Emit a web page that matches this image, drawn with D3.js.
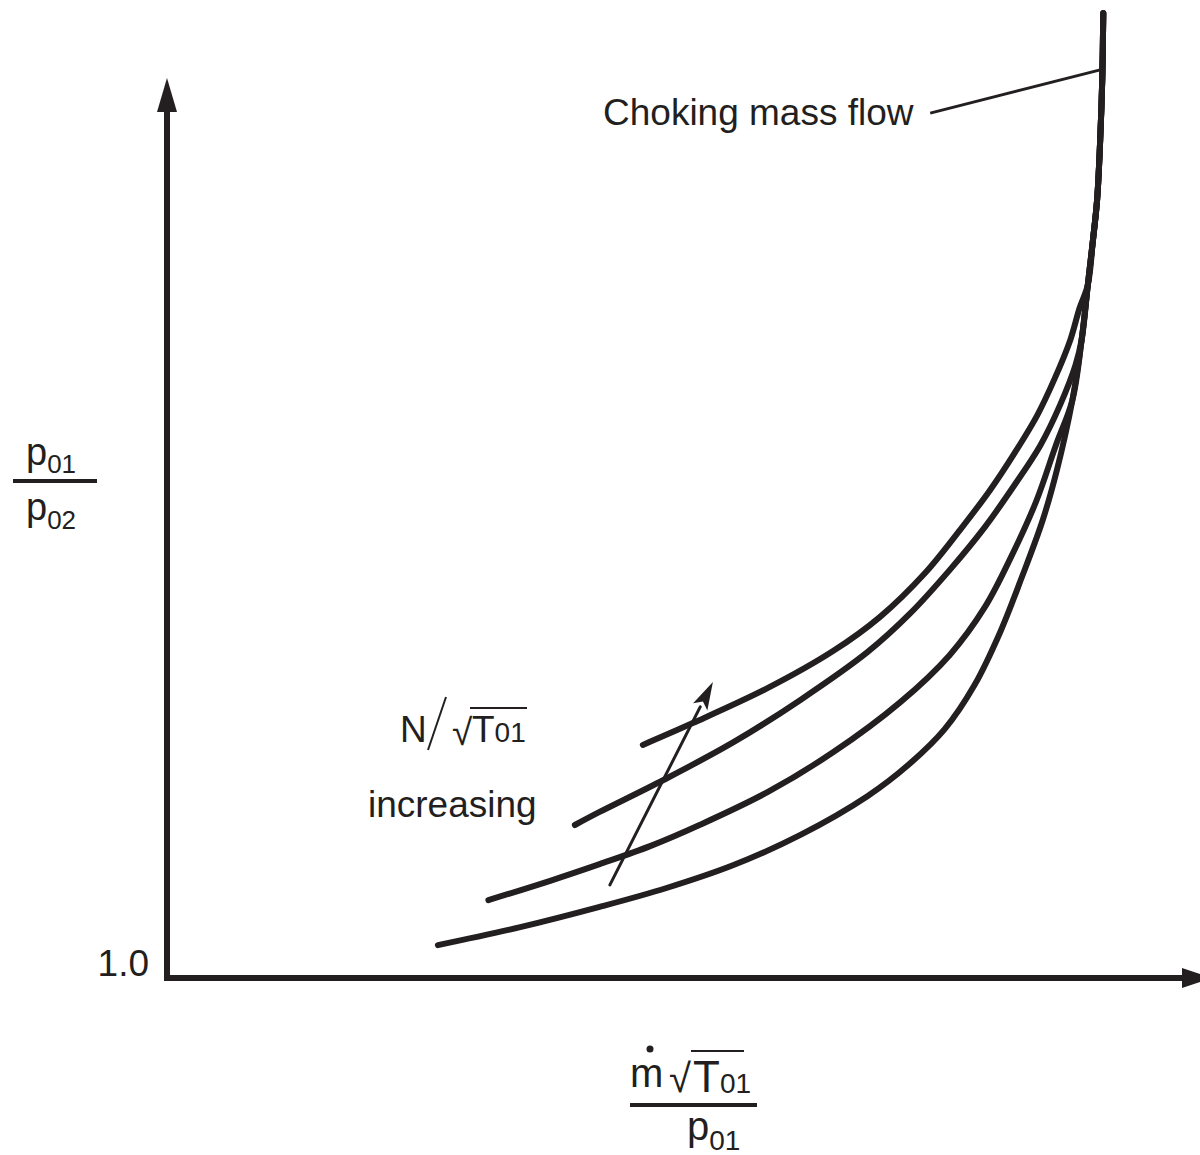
<!DOCTYPE html>
<html><head><meta charset="utf-8">
<script src="https://cdn.jsdelivr.net/npm/d3@7"></script>
<style>body{margin:0;background:#fff} svg{display:block}</style>
</head><body>
<svg id="c" width="1200" height="1155"></svg>
<script>
// ---- data (normalized corrected mass flow, pressure ratio p01/p02) ----
// speed lines, N/sqrt(T01) increasing from N1 (lowest) to N4 (highest)
const curveN1 = [[0.263,1.073],[0.343,1.113],[0.420,1.158],[0.485,1.200],[0.550,1.251],[0.615,1.318],[0.680,1.404],[0.721,1.476],[0.755,1.553],[0.784,1.651],[0.809,1.769],[0.830,1.891],[0.850,2.016],[0.864,2.129]];
const curveN2 = [[0.312,1.173],[0.372,1.216],[0.420,1.253],[0.469,1.293],[0.517,1.340],[0.583,1.413],[0.647,1.502],[0.712,1.613],[0.760,1.718],[0.794,1.824],[0.820,1.938],[0.844,2.060],[0.863,2.184]];
const curveN3 = [[0.396,1.340],[0.420,1.369],[0.482,1.440],[0.550,1.524],[0.615,1.618],[0.680,1.724],[0.721,1.809],[0.760,1.907],[0.794,2.002],[0.823,2.096],[0.848,2.184],[0.867,2.273],[0.882,2.362]];
const curveN4 = [[0.462,1.518],[0.511,1.567],[0.583,1.644],[0.647,1.727],[0.692,1.802],[0.736,1.900],[0.770,1.996],[0.799,2.084],[0.823,2.167],[0.845,2.251],[0.862,2.333],[0.877,2.418],[0.886,2.489]];
// shared part where the low-speed lines run together
const mergedLow = [[0.879,2.284],[0.888,2.418]];
// near-vertical choking line
const chokeLine = [[0.894,2.540],[0.899,2.640],[0.903,2.729],[0.906,2.862],[0.908,2.996],[0.909,3.144]];
const chokeLeader = [[0.741,2.922],[0.906,3.018]];
const speedArrow = [[0.430,1.207],[0.530,1.658]];
const yTickValues = [1.0];
const yTickLabels = ["1.0"];

// ---- layout ----
const svg = d3.select("#c");
const x = d3.scaleLinear().domain([0, 1]).range([167, 1197]);
const y = d3.scaleLinear().domain([1, 3]).range([978, 78]);
const font = "'Liberation Sans', Arial, Helvetica, sans-serif";
const ink = "#231f20";

// axes with arrowheads
svg.append("line").attr("x1", x(0)).attr("y1", y(1) + 3).attr("x2", x(0)).attr("y2", y(3) + 30)
  .attr("stroke", ink).attr("stroke-width", 6);
svg.append("path").attr("d", `M${x(0)},${y(3)} L${x(0)-10},${y(3)+34} L${x(0)+10},${y(3)+34} Z`).attr("fill", ink);
svg.append("line").attr("x1", x(0) - 3).attr("y1", y(1)).attr("x2", 1186).attr("y2", y(1))
  .attr("stroke", ink).attr("stroke-width", 6);
svg.append("path").attr("d", `M1212,${y(1)} L1182,${y(1)-10} L1182,${y(1)+10} Z`).attr("fill", ink);

// y tick label
svg.selectAll("text.ytick").data(yTickValues).enter().append("text")
  .attr("class", "ytick").attr("x", 149).attr("y", d => y(d) - 2)
  .attr("text-anchor", "end").attr("font-family", font).attr("font-size", 37).attr("fill", ink)
  .text((d, i) => yTickLabels[i]);

// speed lines
const line = d3.line().x(d => x(d[0])).y(d => y(d[1])).curve(d3.curveCatmullRom.alpha(0.5));
const paths = [
  curveN1.concat(mergedLow, chokeLine),
  curveN2.concat(mergedLow, chokeLine),
  curveN3.concat(mergedLow.slice(1), chokeLine),
  curveN4.concat(chokeLine)
];
svg.selectAll("path.speed").data(paths).enter().append("path").attr("class", "speed")
  .attr("d", line).attr("fill", "none").attr("stroke", ink).attr("stroke-width", 6)
  .attr("stroke-linecap", "round").attr("stroke-linejoin", "round");

// leader line to choke
svg.append("line").attr("x1", x(chokeLeader[0][0])).attr("y1", y(chokeLeader[0][1]))
  .attr("x2", x(chokeLeader[1][0])).attr("y2", y(chokeLeader[1][1]))
  .attr("stroke", ink).attr("stroke-width", 3);
svg.append("text").attr("x", 603).attr("y", 125).attr("font-family", font).attr("font-size", 37)
  .attr("fill", ink).text("Choking mass flow");

// speed increase arrow
{
  const [a, b] = speedArrow;
  const x1 = x(a[0]), y1 = y(a[1]), x2 = x(b[0]), y2 = y(b[1]);
  const ang = Math.atan2(y2 - y1, x2 - x1);
  const L = 28, W = 8;
  const bx = x2 - L * Math.cos(ang), by = y2 - L * Math.sin(ang);
  svg.append("line").attr("x1", x1).attr("y1", y1).attr("x2", bx).attr("y2", by)
    .attr("stroke", ink).attr("stroke-width", 3).attr("stroke-linecap", "round");
  svg.append("path").attr("d",
    `M${x2},${y2} L${bx + W*Math.sin(ang)},${by - W*Math.cos(ang)} L${bx + 6*Math.cos(ang)},${by + 6*Math.sin(ang)} L${bx - W*Math.sin(ang)},${by + W*Math.cos(ang)} Z`)
    .attr("fill", ink);
}

// N/sqrt(T01) increasing label
const g1 = svg.append("g").attr("font-family", font).attr("fill", ink);
g1.append("text").attr("x", 400).attr("y", 742).attr("font-size", 37).text("N");
g1.append("line").attr("x1", 428).attr("y1", 750).attr("x2", 446).attr("y2", 697).attr("stroke", ink).attr("stroke-width", 2);
g1.append("text").attr("x", 452).attr("y", 745).attr("font-size", 37).text("\u221A");
g1.append("line").attr("x1", 470).attr("y1", 708).attr("x2", 527).attr("y2", 708).attr("stroke", ink).attr("stroke-width", 2);
const t1 = g1.append("text").attr("x", 472).attr("y", 742).attr("font-size", 37);
t1.append("tspan").text("T");
t1.append("tspan").attr("font-size", 28).text("01");
g1.append("text").attr("x", 368).attr("y", 817).attr("font-size", 37).text("increasing");

// y axis label p01/p02
const gy = svg.append("g").attr("font-family", font).attr("fill", ink);
const py1 = gy.append("text").attr("x", 26).attr("y", 465).attr("font-size", 38);
py1.append("tspan").text("p");
py1.append("tspan").attr("font-size", 26).attr("dy", 8).text("01");
gy.append("line").attr("x1", 13).attr("y1", 481).attr("x2", 97).attr("y2", 481).attr("stroke", ink).attr("stroke-width", 4);
const py2 = gy.append("text").attr("x", 26).attr("y", 520).attr("font-size", 38);
py2.append("tspan").text("p");
py2.append("tspan").attr("font-size", 26).attr("dy", 9).text("02");

// x axis label  m-dot sqrt(T01) / p01
const gx = svg.append("g").attr("font-family", font).attr("fill", ink);
gx.append("text").attr("x", 630).attr("y", 1087).attr("font-size", 40).text("m");
gx.append("circle").attr("cx", 650).attr("cy", 1049).attr("r", 3.5).attr("fill", ink);
gx.append("text").attr("x", 669).attr("y", 1092).attr("font-size", 40).text("\u221A");
gx.append("line").attr("x1", 691).attr("y1", 1051).attr("x2", 744).attr("y2", 1051).attr("stroke", ink).attr("stroke-width", 2);
const tx = gx.append("text").attr("x", 693).attr("y", 1092).attr("font-size", 44);
tx.append("tspan").text("T");
tx.append("tspan").attr("font-size", 28).attr("dy", 1).text("01");
gx.append("line").attr("x1", 630).attr("y1", 1105).attr("x2", 757).attr("y2", 1105).attr("stroke", ink).attr("stroke-width", 4);
const px = gx.append("text").attr("x", 687).attr("y", 1140).attr("font-size", 40);
px.append("tspan").text("p");
px.append("tspan").attr("font-size", 28).attr("dy", 10).text("01");
</script>
</body></html>
